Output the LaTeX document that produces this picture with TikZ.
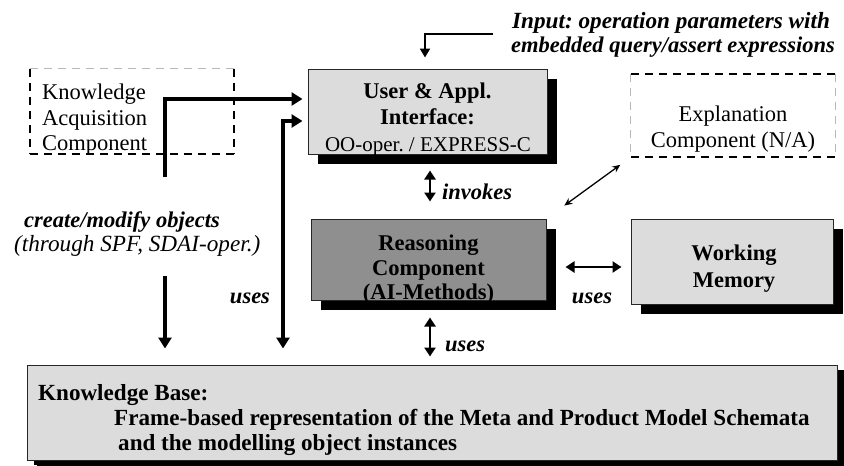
\documentclass[tikz,border=0pt]{standalone}
\usepackage{fontspec}
\setmainfont{Liberation Serif}
\usetikzlibrary{arrows.meta,shadows,calc}
\frenchspacing
\definecolor{boxlight}{HTML}{DCDCDC}
\definecolor{boxdark}{HTML}{8F8F8F}
\definecolor{dashgray}{HTML}{B8B8B8}
\tikzset{
  txt/.style={inner sep=0pt,font=\fontsize{22.5}{26}\selectfont},
  btxt/.style={txt,font=\fontsize{22.5}{26}\selectfont\bfseries},
  bigbtxt/.style={txt,font=\fontsize{23.1}{26}\selectfont\bfseries},
  bitxt/.style={txt,font=\fontsize{22.5}{26}\selectfont\bfseries\itshape},
  itxt/.style={txt,font=\fontsize{23.2}{26}\selectfont\itshape},
  panel/.style={rectangle,inner sep=0pt,draw=black!85,line width=1pt,fill=boxlight,
    drop shadow={shadow xshift=10pt,shadow yshift=-10pt,fill=black,opacity=1}},
  frame/.style={rectangle,inner sep=0pt},
  heavyline/.style={black,line width=1.9pt,dash pattern=on 8pt off 6pt},
  lightline/.style={dashgray,line width=0.8pt,dash pattern=on 8pt off 6pt},
  bigarrow/.style={line width=4pt,-{Triangle[length=11pt,width=13pt]}},
  bigdouble/.style={line width=4pt,{Triangle[length=11pt,width=13pt]}-{Triangle[length=11pt,width=13pt]}},
  medarrow/.style={line width=2.6pt,{Triangle[length=9pt,width=11pt]}-{Triangle[length=9pt,width=11pt]}},
  thinarrow/.style={line width=1.3pt,{Stealth[length=8pt,width=7pt]}-{Stealth[length=8pt,width=7pt]}},
}
\begin{document}
\begin{tikzpicture}[x=1pt,y=-1pt]
\useasboundingbox (0,0) rectangle (844,466);

% ---------- boxes ----------
\node[panel,minimum width=239pt,minimum height=85pt] (user) at (427.5,111.5) {};
\node[panel,fill=boxdark,minimum width=235pt,minimum height=81pt] (reas) at (428.5,259.5) {};
\node[panel,minimum width=202pt,minimum height=85pt] (wm) at (732,261.5) {};
\node[panel,minimum width=810pt,minimum height=95pt,
      drop shadow={shadow xshift=7pt,shadow yshift=-5pt,fill=black,opacity=1}] (kb) at (432,412.5) {};
\node[frame,minimum width=204pt,minimum height=85pt] (ka) at (132,111.5) {};
\node[frame,minimum width=204pt,minimum height=83pt] (expl) at (733,115.5) {};

% dashed frames
\draw[lightline] (ka.north west) -- (ka.north east);
\draw[heavyline] (ka.north west) -- (ka.south west);
\draw[heavyline] (ka.north east) -- (ka.south east);
\draw[heavyline] (ka.south west) -- (ka.south east);
\draw[heavyline] (expl.north west) -- (expl.north east);
\draw[heavyline] (expl.south west) -- (expl.south east);
\draw[lightline] (expl.north west) -- (expl.south west);
\draw[lightline] (expl.north east) -- (expl.south east);

% ---------- box texts ----------
\node[txt,anchor=base west] (ka1) at (42,99) {Knowledge};
\node[txt,anchor=base west] (ka2) at (42,125) {Acquisition};
\node[txt,anchor=base west] (ka3) at (42,150) {Component};

\node[btxt,anchor=base] (us1) at (427.5,98) {User \& Appl.};
\node[btxt,anchor=base] (us2) at (427.5,124) {Interface:};
\node[txt,anchor=base,font=\fontsize{21}{26}\selectfont] (us3) at (428,151) {OO-oper. / EXPRESS-C};

\node[txt,anchor=base] (ex1) at (733,121) {Explanation};
\node[txt,anchor=base] (ex2) at (733,147) {Component (N/A)};

\node[btxt,anchor=base] (re1) at (428.5,250) {Reasoning};
\node[btxt,anchor=base] (re2) at (428.5,275) {Component};
\node[btxt,anchor=base] (re3) at (428.5,299) {(AI-Methods)};

\node[btxt,anchor=base] (wm1) at (734,260) {Working};
\node[btxt,anchor=base] (wm2) at (734,287) {Memory};

\node[bigbtxt,anchor=base west] (kb1) at (38,400) {Knowledge Base:};
\node[bigbtxt,anchor=base west] (kb2) at (114,425) {Frame-based representation of the Meta and Product Model Schemata};
\node[bigbtxt,anchor=base west] (kb3) at (118,450) {and the modelling object instances};

% ---------- labels ----------
\node[bitxt,anchor=base west,font=\fontsize{23.2}{26}\selectfont\bfseries\itshape] (in1) at (512,28) {Input: operation parameters with};
\node[bitxt,anchor=base west,font=\fontsize{22.5}{26}\selectfont\bfseries\itshape] (in2) at (511,52) {embedded query/assert expressions};
\node[bitxt,anchor=base west] (cr1) at (24,227) {create/modify objects};
\node[itxt,anchor=base west] (cr2) at (14,251) {(through SPF, SDAI-oper.)};
\node[bitxt,anchor=base] (lu) at (250,303) {uses};
\node[bitxt,anchor=base west] (inv) at (442,199) {invokes};
\node[bitxt,anchor=base west] (mu) at (445,351) {uses};
\node[bitxt,anchor=base] (ru) at (592,303) {uses};

% ---------- connectors ----------
\coordinate (kaStart) at (165,177);
\coordinate (kaTurn) at (165,99);
\draw[bigarrow,shorten >=5pt] (kaStart) -- (kaTurn) -- (user.west |- kaTurn);

\coordinate (usTurn) at (283,121);
\draw[bigdouble,shorten <=16pt,shorten >=5pt] (kb.north -| usTurn) -- (usTurn) -- (user.west |- usTurn);

\coordinate (crStart) at (165,276);
\draw[bigarrow,shorten >=16pt] (crStart) -- (kb.north -| crStart);

\coordinate (inStart) at (493,34);
\coordinate (inX) at (425,0);
\draw[line width=2.2pt,-{Triangle[length=9pt,width=10pt]},shorten >=11pt] (inStart) -| (user.north -| inX);

\coordinate (midX) at (430,0);
\draw[medarrow,shorten <=16pt,shorten >=17pt] (user.south -| midX) -- (reas.north -| midX);
\draw[medarrow,shorten <=17pt,shorten >=8pt] (reas.south -| midX) -- (kb.north -| midX);

\coordinate (wmY) at (600,267);
\draw[medarrow,shorten <=19pt,shorten >=9pt] (reas.east |- wmY) -- (wm.west |- wmY);

\draw[thinarrow,shorten <=22pt,shorten >=13pt] (reas.north east) -- (expl.south west);
\end{tikzpicture}
\end{document}
